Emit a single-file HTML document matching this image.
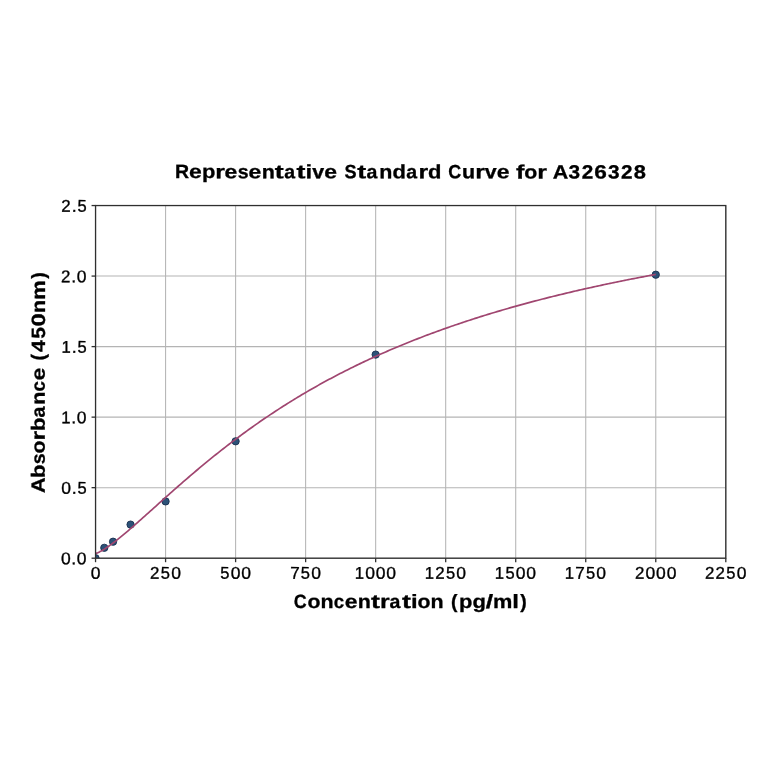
<!DOCTYPE html>
<html><head><meta charset="utf-8"><title>Representative Standard Curve for A326328</title><style>
html,body{margin:0;padding:0;background:#fff;width:764px;height:764px;overflow:hidden}
svg{display:block;will-change:transform}
</style></head><body>
<svg width="764" height="764" viewBox="0 0 764 764">
<rect width="764" height="764" fill="#fff"/>
<defs><clipPath id="ax"><rect x="95.55" y="205.55" width="630.25" height="352.65"/></clipPath></defs>
<g stroke="#b4b4b4" stroke-width="1.05"><line x1="95.55" y1="205.55" x2="95.55" y2="558.2"/><line x1="165.58" y1="205.55" x2="165.58" y2="558.2"/><line x1="235.61" y1="205.55" x2="235.61" y2="558.2"/><line x1="305.63" y1="205.55" x2="305.63" y2="558.2"/><line x1="375.66" y1="205.55" x2="375.66" y2="558.2"/><line x1="445.69" y1="205.55" x2="445.69" y2="558.2"/><line x1="515.72" y1="205.55" x2="515.72" y2="558.2"/><line x1="585.74" y1="205.55" x2="585.74" y2="558.2"/><line x1="655.77" y1="205.55" x2="655.77" y2="558.2"/><line x1="725.80" y1="205.55" x2="725.80" y2="558.2"/><line x1="95.55" y1="558.20" x2="725.8" y2="558.20"/><line x1="95.55" y1="487.67" x2="725.8" y2="487.67"/><line x1="95.55" y1="417.14" x2="725.8" y2="417.14"/><line x1="95.55" y1="346.61" x2="725.8" y2="346.61"/><line x1="95.55" y1="276.08" x2="725.8" y2="276.08"/><line x1="95.55" y1="205.55" x2="725.8" y2="205.55"/></g>
<g clip-path="url(#ax)">
<g fill="#2c5278" stroke="#1a3050" stroke-width="0.9"><circle cx="95.55" cy="558.20" r="3.65"/><circle cx="104.30" cy="547.80" r="3.65"/><circle cx="113.06" cy="541.70" r="3.65"/><circle cx="130.56" cy="524.60" r="3.65"/><circle cx="165.58" cy="501.40" r="3.65"/><circle cx="235.61" cy="441.30" r="3.65"/><circle cx="375.66" cy="354.60" r="3.65"/><circle cx="655.77" cy="274.70" r="3.65"/></g>
<polyline points="95.55,553.42 96.11,553.30 96.67,553.12 97.23,552.92 97.79,552.69 98.35,552.44 98.91,552.18 99.47,551.91 100.03,551.62 100.59,551.32 101.15,551.02 101.71,550.70 102.27,550.38 102.83,550.04 103.39,549.70 103.95,549.36 104.51,549.00 105.07,548.64 105.63,548.28 106.19,547.91 106.75,547.53 107.31,547.15 107.87,546.77 108.44,546.38 109.00,545.98 109.56,545.58 110.12,545.18 111.94,543.84 113.77,542.46 115.59,541.06 117.42,539.62 119.24,538.16 121.07,536.67 122.89,535.16 124.72,533.64 126.54,532.10 128.37,530.54 130.19,528.97 132.02,527.39 133.84,525.80 135.66,524.20 137.49,522.59 139.31,520.98 141.14,519.35 142.96,517.73 144.79,516.10 146.61,514.46 148.44,512.83 150.26,511.19 152.09,509.55 153.91,507.91 155.74,506.27 157.56,504.63 159.39,502.99 161.21,501.35 163.04,499.72 164.86,498.08 166.69,496.45 168.51,494.83 170.34,493.21 172.16,491.59 173.99,489.97 175.81,488.36 177.64,486.76 179.46,485.16 181.29,483.56 183.11,481.97 184.94,480.39 186.76,478.81 188.59,477.24 190.41,475.67 192.24,474.11 194.06,472.56 195.89,471.01 197.71,469.48 199.54,467.95 201.36,466.42 203.19,464.90 205.01,463.39 206.84,461.89 208.66,460.40 210.49,458.91 212.31,457.43 214.14,455.96 215.96,454.50 217.79,453.04 219.61,451.60 221.44,450.16 223.26,448.72 225.09,447.30 226.91,445.89 228.74,444.48 230.56,443.08 232.39,441.69 234.21,440.31 236.04,438.93 237.86,437.57 239.69,436.21 241.51,434.86 243.34,433.52 245.16,432.19 246.99,430.86 248.81,429.55 250.64,428.24 252.46,426.94 254.29,425.65 256.11,424.36 257.94,423.09 259.76,421.82 261.59,420.56 263.41,419.31 265.24,418.07 267.06,416.83 268.89,415.61 270.71,414.39 272.54,413.18 274.36,411.97 276.19,410.78 278.01,409.59 279.84,408.41 281.66,407.24 283.48,406.08 285.31,404.92 287.13,403.77 288.96,402.63 290.78,401.50 292.61,400.37 294.43,399.25 296.26,398.14 298.08,397.04 299.91,395.94 301.73,394.85 303.56,393.77 305.38,392.70 307.21,391.63 309.03,390.57 310.86,389.52 312.68,388.47 314.51,387.43 316.33,386.40 318.16,385.38 319.98,384.36 321.81,383.35 323.63,382.34 325.46,381.35 327.28,380.36 329.11,379.37 330.93,378.39 332.76,377.42 334.58,376.46 336.41,375.50 338.23,374.55 340.06,373.60 341.88,372.67 343.71,371.73 345.53,370.81 347.36,369.89 349.18,368.97 351.01,368.06 352.83,367.16 354.66,366.27 356.48,365.38 358.31,364.49 360.13,363.62 361.96,362.74 363.78,361.88 365.61,361.02 367.43,360.16 369.26,359.31 371.08,358.47 372.91,357.63 374.73,356.80 376.56,355.97 378.38,355.15 380.21,354.34 382.03,353.52 383.86,352.72 385.68,351.92 387.51,351.12 389.33,350.34 391.16,349.55 392.98,348.77 394.81,348.00 396.63,347.23 398.46,346.46 400.28,345.71 402.11,344.95 403.93,344.20 405.76,343.46 407.58,342.72 409.41,341.98 411.23,341.25 413.06,340.53 414.88,339.81 416.71,339.09 418.53,338.38 420.36,337.67 422.18,336.97 424.01,336.27 425.83,335.58 427.65,334.89 429.48,334.21 431.30,333.53 433.13,332.85 434.95,332.18 436.78,331.51 438.60,330.85 440.43,330.19 442.25,329.53 444.08,328.88 445.90,328.24 447.73,327.59 449.55,326.96 451.38,326.32 453.20,325.69 455.03,325.06 456.85,324.44 458.68,323.82 460.50,323.21 462.33,322.60 464.15,321.99 465.98,321.38 467.80,320.78 469.63,320.19 471.45,319.59 473.28,319.01 475.10,318.42 476.93,317.84 478.75,317.26 480.58,316.68 482.40,316.11 484.23,315.55 486.05,314.98 487.88,314.42 489.70,313.86 491.53,313.31 493.35,312.76 495.18,312.21 497.00,311.66 498.83,311.12 500.65,310.58 502.48,310.05 504.30,309.52 506.13,308.99 507.95,308.46 509.78,307.94 511.60,307.42 513.43,306.91 515.25,306.39 517.08,305.88 518.90,305.38 520.73,304.87 522.55,304.37 524.38,303.87 526.20,303.38 528.03,302.89 529.85,302.40 531.68,301.91 533.50,301.42 535.33,300.94 537.15,300.47 538.98,299.99 540.80,299.52 542.63,299.05 544.45,298.58 546.28,298.11 548.10,297.65 549.93,297.19 551.75,296.73 553.58,296.28 555.40,295.83 557.23,295.38 559.05,294.93 560.88,294.49 562.70,294.05 564.53,293.61 566.35,293.17 568.18,292.74 570.00,292.30 571.83,291.87 573.65,291.45 575.47,291.02 577.30,290.60 579.12,290.18 580.95,289.76 582.77,289.35 584.60,288.93 586.42,288.52 588.25,288.11 590.07,287.71 591.90,287.30 593.72,286.90 595.55,286.50 597.37,286.10 599.20,285.71 601.02,285.31 602.85,284.92 604.67,284.53 606.50,284.14 608.32,283.76 610.15,283.38 611.97,282.99 613.80,282.61 615.62,282.24 617.45,281.86 619.27,281.49 621.10,281.12 622.92,280.75 624.75,280.38 626.57,280.02 628.40,279.65 630.22,279.29 632.05,278.93 633.87,278.57 635.70,278.22 637.52,277.87 639.35,277.51 641.17,277.16 643.00,276.81 644.82,276.47 646.65,276.12 648.47,275.78 650.30,275.44 652.12,275.10 653.95,274.76 655.77,274.42" fill="none" stroke="#a04670" stroke-width="1.7" stroke-linejoin="round"/>
</g>
<rect x="95.55" y="205.55" width="630.25" height="352.65" fill="none" stroke="#2f2f2f" stroke-width="1.3"/>
<g stroke="#2f2f2f" stroke-width="1.3"><line x1="95.55" y1="558.2" x2="95.55" y2="562.20"/><line x1="165.58" y1="558.2" x2="165.58" y2="562.20"/><line x1="235.61" y1="558.2" x2="235.61" y2="562.20"/><line x1="305.63" y1="558.2" x2="305.63" y2="562.20"/><line x1="375.66" y1="558.2" x2="375.66" y2="562.20"/><line x1="445.69" y1="558.2" x2="445.69" y2="562.20"/><line x1="515.72" y1="558.2" x2="515.72" y2="562.20"/><line x1="585.74" y1="558.2" x2="585.74" y2="562.20"/><line x1="655.77" y1="558.2" x2="655.77" y2="562.20"/><line x1="725.80" y1="558.2" x2="725.80" y2="562.20"/><line x1="91.55" y1="558.20" x2="95.55" y2="558.20"/><line x1="91.55" y1="487.67" x2="95.55" y2="487.67"/><line x1="91.55" y1="417.14" x2="95.55" y2="417.14"/><line x1="91.55" y1="346.61" x2="95.55" y2="346.61"/><line x1="91.55" y1="276.08" x2="95.55" y2="276.08"/><line x1="91.55" y1="205.55" x2="95.55" y2="205.55"/></g>
<g font-family="Liberation Sans, sans-serif" font-size="17.015" fill="#000" stroke="#000" stroke-width="0.35"><text y="578.70" transform="rotate(0.05 95.5 578.7)"><tspan x="90.68" textLength="9.73" lengthAdjust="spacingAndGlyphs">0</tspan></text><text y="578.70" transform="rotate(0.05 165.6 578.7)"><tspan x="150.05" textLength="9.38" lengthAdjust="spacingAndGlyphs">2</tspan><tspan x="160.86" textLength="9.18" lengthAdjust="spacingAndGlyphs">5</tspan><tspan x="171.21" textLength="9.73" lengthAdjust="spacingAndGlyphs">0</tspan></text><text y="578.70" transform="rotate(0.05 235.6 578.7)"><tspan x="220.29" textLength="9.18" lengthAdjust="spacingAndGlyphs">5</tspan><tspan x="230.65" textLength="9.73" lengthAdjust="spacingAndGlyphs">0</tspan><tspan x="241.21" textLength="9.73" lengthAdjust="spacingAndGlyphs">0</tspan></text><text y="578.70" transform="rotate(0.05 305.6 578.7)"><tspan x="290.15" textLength="9.52" lengthAdjust="spacingAndGlyphs">7</tspan><tspan x="300.84" textLength="9.18" lengthAdjust="spacingAndGlyphs">5</tspan><tspan x="311.20" textLength="9.73" lengthAdjust="spacingAndGlyphs">0</tspan></text><text y="578.70" transform="rotate(0.05 375.7 578.7)"><tspan x="354.73" textLength="9.29" lengthAdjust="spacingAndGlyphs">1</tspan><tspan x="365.15" textLength="9.73" lengthAdjust="spacingAndGlyphs">0</tspan><tspan x="375.71" textLength="9.73" lengthAdjust="spacingAndGlyphs">0</tspan><tspan x="386.27" textLength="9.73" lengthAdjust="spacingAndGlyphs">0</tspan></text><text y="578.70" transform="rotate(0.05 445.7 578.7)"><tspan x="424.76" textLength="9.29" lengthAdjust="spacingAndGlyphs">1</tspan><tspan x="435.13" textLength="9.38" lengthAdjust="spacingAndGlyphs">2</tspan><tspan x="445.95" textLength="9.18" lengthAdjust="spacingAndGlyphs">5</tspan><tspan x="456.30" textLength="9.73" lengthAdjust="spacingAndGlyphs">0</tspan></text><text y="578.70" transform="rotate(0.05 515.7 578.7)"><tspan x="494.78" textLength="9.29" lengthAdjust="spacingAndGlyphs">1</tspan><tspan x="505.41" textLength="9.18" lengthAdjust="spacingAndGlyphs">5</tspan><tspan x="515.77" textLength="9.73" lengthAdjust="spacingAndGlyphs">0</tspan><tspan x="526.33" textLength="9.73" lengthAdjust="spacingAndGlyphs">0</tspan></text><text y="578.70" transform="rotate(0.05 585.7 578.7)"><tspan x="564.81" textLength="9.29" lengthAdjust="spacingAndGlyphs">1</tspan><tspan x="575.31" textLength="9.52" lengthAdjust="spacingAndGlyphs">7</tspan><tspan x="586.00" textLength="9.18" lengthAdjust="spacingAndGlyphs">5</tspan><tspan x="596.36" textLength="9.73" lengthAdjust="spacingAndGlyphs">0</tspan></text><text y="578.70" transform="rotate(0.05 655.8 578.7)"><tspan x="634.96" textLength="9.38" lengthAdjust="spacingAndGlyphs">2</tspan><tspan x="645.56" textLength="9.73" lengthAdjust="spacingAndGlyphs">0</tspan><tspan x="656.13" textLength="9.73" lengthAdjust="spacingAndGlyphs">0</tspan><tspan x="666.69" textLength="9.73" lengthAdjust="spacingAndGlyphs">0</tspan></text><text y="578.70" transform="rotate(0.05 725.8 578.7)"><tspan x="704.99" textLength="9.38" lengthAdjust="spacingAndGlyphs">2</tspan><tspan x="715.55" textLength="9.38" lengthAdjust="spacingAndGlyphs">2</tspan><tspan x="726.36" textLength="9.18" lengthAdjust="spacingAndGlyphs">5</tspan><tspan x="736.72" textLength="9.73" lengthAdjust="spacingAndGlyphs">0</tspan></text><text y="564.37" transform="rotate(0.05 73.8 564.4)"><tspan x="61.01" textLength="9.73" lengthAdjust="spacingAndGlyphs">0</tspan><tspan x="71.30" textLength="4.99" lengthAdjust="spacingAndGlyphs">.</tspan><tspan x="76.85" textLength="9.73" lengthAdjust="spacingAndGlyphs">0</tspan></text><text y="493.84" transform="rotate(0.05 74.0 493.8)"><tspan x="61.36" textLength="9.73" lengthAdjust="spacingAndGlyphs">0</tspan><tspan x="71.65" textLength="4.99" lengthAdjust="spacingAndGlyphs">.</tspan><tspan x="77.41" textLength="9.18" lengthAdjust="spacingAndGlyphs">5</tspan></text><text y="423.31" transform="rotate(0.05 74.2 423.3)"><tspan x="61.15" textLength="9.29" lengthAdjust="spacingAndGlyphs">1</tspan><tspan x="71.30" textLength="4.99" lengthAdjust="spacingAndGlyphs">.</tspan><tspan x="76.85" textLength="9.73" lengthAdjust="spacingAndGlyphs">0</tspan></text><text y="352.78" transform="rotate(0.05 74.3 352.8)"><tspan x="61.50" textLength="9.29" lengthAdjust="spacingAndGlyphs">1</tspan><tspan x="71.65" textLength="4.99" lengthAdjust="spacingAndGlyphs">.</tspan><tspan x="77.41" textLength="9.18" lengthAdjust="spacingAndGlyphs">5</tspan></text><text y="282.25" transform="rotate(0.05 73.9 282.3)"><tspan x="60.97" textLength="9.38" lengthAdjust="spacingAndGlyphs">2</tspan><tspan x="71.30" textLength="4.99" lengthAdjust="spacingAndGlyphs">.</tspan><tspan x="76.85" textLength="9.73" lengthAdjust="spacingAndGlyphs">0</tspan></text><text y="211.72" transform="rotate(0.05 74.0 211.7)"><tspan x="61.32" textLength="9.38" lengthAdjust="spacingAndGlyphs">2</tspan><tspan x="71.65" textLength="4.99" lengthAdjust="spacingAndGlyphs">.</tspan><tspan x="77.41" textLength="9.18" lengthAdjust="spacingAndGlyphs">5</tspan></text></g>
<g font-family="Liberation Sans, sans-serif" font-weight="bold" font-size="19.215" fill="#000" stroke="#000" stroke-width="0.3">
<text y="178.30" transform="rotate(0.05 410.8 178.3)"><tspan x="175.07" textLength="14.11" lengthAdjust="spacingAndGlyphs">R</tspan><tspan x="189.07" textLength="12.74" lengthAdjust="spacingAndGlyphs">e</tspan><tspan x="202.07" textLength="13.41" lengthAdjust="spacingAndGlyphs">p</tspan><tspan x="215.37" textLength="9.67" lengthAdjust="spacingAndGlyphs">r</tspan><tspan x="224.64" textLength="12.74" lengthAdjust="spacingAndGlyphs">e</tspan><tspan x="237.79" textLength="10.83" lengthAdjust="spacingAndGlyphs">s</tspan><tspan x="248.64" textLength="12.74" lengthAdjust="spacingAndGlyphs">e</tspan><tspan x="261.67" textLength="13.11" lengthAdjust="spacingAndGlyphs">n</tspan><tspan x="274.85" textLength="8.97" lengthAdjust="spacingAndGlyphs">t</tspan><tspan x="284.17" textLength="10.87" lengthAdjust="spacingAndGlyphs">a</tspan><tspan x="296.57" textLength="8.97" lengthAdjust="spacingAndGlyphs">t</tspan><tspan x="305.56" textLength="6.67" lengthAdjust="spacingAndGlyphs">i</tspan><tspan x="312.32" textLength="11.90" lengthAdjust="spacingAndGlyphs">v</tspan><tspan x="324.32" textLength="12.74" lengthAdjust="spacingAndGlyphs">e</tspan> <tspan x="344.58" textLength="12.07" lengthAdjust="spacingAndGlyphs">S</tspan><tspan x="357.25" textLength="8.97" lengthAdjust="spacingAndGlyphs">t</tspan><tspan x="366.56" textLength="10.87" lengthAdjust="spacingAndGlyphs">a</tspan><tspan x="379.21" textLength="13.11" lengthAdjust="spacingAndGlyphs">n</tspan><tspan x="392.41" textLength="13.41" lengthAdjust="spacingAndGlyphs">d</tspan><tspan x="406.19" textLength="10.87" lengthAdjust="spacingAndGlyphs">a</tspan><tspan x="418.62" textLength="9.67" lengthAdjust="spacingAndGlyphs">r</tspan><tspan x="427.91" textLength="13.41" lengthAdjust="spacingAndGlyphs">d</tspan> <tspan x="448.22" textLength="12.91" lengthAdjust="spacingAndGlyphs">C</tspan><tspan x="461.99" textLength="13.11" lengthAdjust="spacingAndGlyphs">u</tspan><tspan x="475.21" textLength="9.67" lengthAdjust="spacingAndGlyphs">r</tspan><tspan x="484.76" textLength="11.90" lengthAdjust="spacingAndGlyphs">v</tspan><tspan x="496.76" textLength="12.74" lengthAdjust="spacingAndGlyphs">e</tspan> <tspan x="516.12" textLength="8.39" lengthAdjust="spacingAndGlyphs">f</tspan><tspan x="524.37" textLength="12.99" lengthAdjust="spacingAndGlyphs">o</tspan><tspan x="537.28" textLength="9.67" lengthAdjust="spacingAndGlyphs">r</tspan> <tspan x="552.75" textLength="15.50" lengthAdjust="spacingAndGlyphs">A</tspan><tspan x="568.56" textLength="11.58" lengthAdjust="spacingAndGlyphs">3</tspan><tspan x="581.66" textLength="11.53" lengthAdjust="spacingAndGlyphs">2</tspan><tspan x="594.34" textLength="12.58" lengthAdjust="spacingAndGlyphs">6</tspan><tspan x="607.90" textLength="11.58" lengthAdjust="spacingAndGlyphs">3</tspan><tspan x="621.00" textLength="11.53" lengthAdjust="spacingAndGlyphs">2</tspan><tspan x="633.80" textLength="12.16" lengthAdjust="spacingAndGlyphs">8</tspan></text>
<text y="608.00" transform="rotate(0.05 410.2 608.0)"><tspan x="293.82" textLength="12.89" lengthAdjust="spacingAndGlyphs">C</tspan><tspan x="307.41" textLength="12.97" lengthAdjust="spacingAndGlyphs">o</tspan><tspan x="320.53" textLength="13.09" lengthAdjust="spacingAndGlyphs">n</tspan><tspan x="333.84" textLength="10.36" lengthAdjust="spacingAndGlyphs">c</tspan><tspan x="344.83" textLength="12.72" lengthAdjust="spacingAndGlyphs">e</tspan><tspan x="357.85" textLength="13.09" lengthAdjust="spacingAndGlyphs">n</tspan><tspan x="371.00" textLength="8.96" lengthAdjust="spacingAndGlyphs">t</tspan><tspan x="380.02" textLength="9.66" lengthAdjust="spacingAndGlyphs">r</tspan><tspan x="389.59" textLength="10.86" lengthAdjust="spacingAndGlyphs">a</tspan><tspan x="401.98" textLength="8.96" lengthAdjust="spacingAndGlyphs">t</tspan><tspan x="410.96" textLength="6.66" lengthAdjust="spacingAndGlyphs">i</tspan><tspan x="417.48" textLength="12.97" lengthAdjust="spacingAndGlyphs">o</tspan><tspan x="430.60" textLength="13.09" lengthAdjust="spacingAndGlyphs">n</tspan> <tspan x="451.03" textLength="6.46" lengthAdjust="spacingAndGlyphs">(</tspan><tspan x="459.12" textLength="13.39" lengthAdjust="spacingAndGlyphs">p</tspan><tspan x="472.40" textLength="13.42" lengthAdjust="spacingAndGlyphs">g</tspan><tspan x="485.67" textLength="7.39" lengthAdjust="spacingAndGlyphs">/</tspan><tspan x="492.93" textLength="19.34" lengthAdjust="spacingAndGlyphs">m</tspan><tspan x="512.32" textLength="6.66" lengthAdjust="spacingAndGlyphs">l</tspan><tspan x="520.35" textLength="6.46" lengthAdjust="spacingAndGlyphs">)</tspan></text>
<g transform="translate(44.85 382.9) rotate(-90)"><text y="0.00" transform="rotate(0.05 0.0 0.0)"><tspan x="-110.17" textLength="15.48" lengthAdjust="spacingAndGlyphs">A</tspan><tspan x="-95.03" textLength="13.39" lengthAdjust="spacingAndGlyphs">b</tspan><tspan x="-81.40" textLength="10.82" lengthAdjust="spacingAndGlyphs">s</tspan><tspan x="-70.51" textLength="12.97" lengthAdjust="spacingAndGlyphs">o</tspan><tspan x="-57.62" textLength="9.66" lengthAdjust="spacingAndGlyphs">r</tspan><tspan x="-48.15" textLength="13.39" lengthAdjust="spacingAndGlyphs">b</tspan><tspan x="-34.57" textLength="10.86" lengthAdjust="spacingAndGlyphs">a</tspan><tspan x="-21.94" textLength="13.09" lengthAdjust="spacingAndGlyphs">n</tspan><tspan x="-8.63" textLength="10.36" lengthAdjust="spacingAndGlyphs">c</tspan><tspan x="2.36" textLength="12.72" lengthAdjust="spacingAndGlyphs">e</tspan> <tspan x="22.41" textLength="6.46" lengthAdjust="spacingAndGlyphs">(</tspan><tspan x="30.89" textLength="11.82" lengthAdjust="spacingAndGlyphs">4</tspan><tspan x="44.27" textLength="11.55" lengthAdjust="spacingAndGlyphs">5</tspan><tspan x="56.51" textLength="13.21" lengthAdjust="spacingAndGlyphs">0</tspan><tspan x="69.82" textLength="13.09" lengthAdjust="spacingAndGlyphs">n</tspan><tspan x="83.17" textLength="19.34" lengthAdjust="spacingAndGlyphs">m</tspan><tspan x="104.14" textLength="6.46" lengthAdjust="spacingAndGlyphs">)</tspan></text></g>
</g>
</svg>
</body></html>
